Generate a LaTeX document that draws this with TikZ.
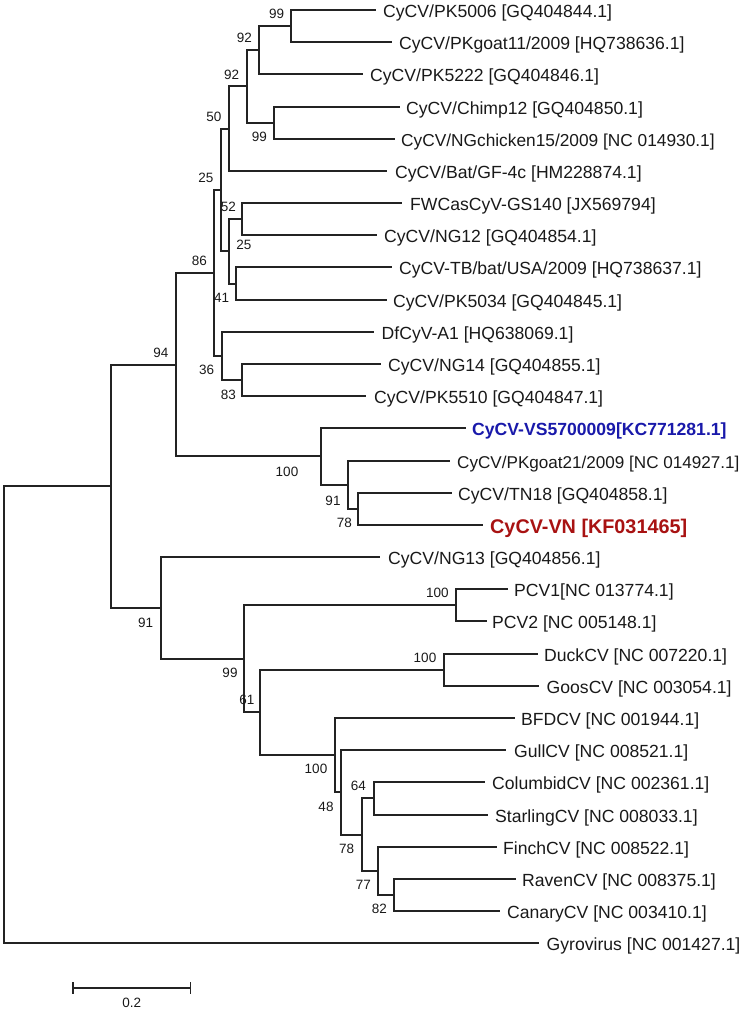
\documentclass[tikz,border=0pt]{standalone}
\usepackage{fontspec}
\setmainfont{Liberation Sans}
\usetikzlibrary{arrows.meta}
\definecolor{tipblue}{RGB}{25,25,170}
\definecolor{tipred}{RGB}{168,18,18}
\definecolor{branch}{RGB}{35,35,35}
\begin{document}
\begin{tikzpicture}[x=1pt,y=-1pt,
  br/.style={line width=1.5pt, draw=branch},
  leaf/.style={anchor=base west, inner sep=0pt, text=black!90, font=\fontsize{17.6}{19}\selectfont},
  bs/.style={inner sep=0pt, text=black!90, font=\fontsize{13.5}{15}\selectfont}]
\useasboundingbox (0,0) rectangle (755,1013);
% ---------- leaf tips and labels ----------
\coordinate (t1) at (376,10);   \node[leaf] (n1) at (383,17.5) {CyCV/PK5006 [GQ404844.1]};
\coordinate (t2) at (392,42);   \node[leaf] (n2) at (399,49.5) {CyCV/PKgoat11/2009 [HQ738636.1]};
\coordinate (t3) at (363,74);   \node[leaf] (n3) at (370,81.5) {CyCV/PK5222 [GQ404846.1]};
\coordinate (t4) at (400,107);  \node[leaf] (n4) at (406,114.5) {CyCV/Chimp12 [GQ404850.1]};
\coordinate (t5) at (395,139);  \node[leaf,font=\fontsize{17.3}{19}\selectfont] (n5) at (401,146.5) {CyCV/NGchicken15/2009 [NC 014930.1]};
\coordinate (t6) at (387,171);  \node[leaf] (n6) at (395,178.5) {CyCV/Bat/GF-4c [HM228874.1]};
\coordinate (t7) at (402,203);  \node[leaf] (n7) at (410,210.5) {FWCasCyV-GS140 [JX569794]};
\coordinate (t8) at (377,235);  \node[leaf] (n8) at (384,242.5) {CyCV/NG12 [GQ404854.1]};
\coordinate (t9) at (392,267);  \node[leaf] (n9) at (399,274.5) {CyCV-TB/bat/USA/2009 [HQ738637.1]};
\coordinate (t10) at (387,300); \node[leaf] (n10) at (393,307.5) {CyCV/PK5034 [GQ404845.1]};
\coordinate (t11) at (374,332); \node[leaf] (n11) at (381.5,339.5) {DfCyV-A1 [HQ638069.1]};
\coordinate (t12) at (381,364); \node[leaf] (n12) at (388,371.5) {CyCV/NG14 [GQ404855.1]};
\coordinate (t13) at (366,396); \node[leaf] (n13) at (374,403.5) {CyCV/PK5510 [GQ404847.1]};
\coordinate (t14) at (466,428); \node[leaf,text=tipblue,font=\fontsize{17.6}{19}\selectfont\bfseries] (n14) at (472,435.5) {CyCV-VS5700009[KC771281.1]};
\coordinate (t15) at (450,461); \node[leaf,font=\fontsize{17.1}{19}\selectfont] (n15) at (457,468.5) {CyCV/PKgoat21/2009 [NC 014927.1]};
\coordinate (t16) at (452,493); \node[leaf] (n16) at (458,500.5) {CyCV/TN18 [GQ404858.1]};
\coordinate (t17) at (483,525); \node[leaf,text=tipred,font=\fontsize{19.8}{21}\selectfont\bfseries] (n17) at (490,533.2) {CyCV-VN [KF031465]};
\coordinate (t18) at (380,557); \node[leaf] (n18) at (388,564.5) {CyCV/NG13 [GQ404856.1]};
\coordinate (t19) at (508,589); \node[leaf] (n19) at (514,596.5) {PCV1[NC 013774.1]};
\coordinate (t20) at (487,621); \node[leaf] (n20) at (492,628.5) {PCV2 [NC 005148.1]};
\coordinate (t21) at (538,654); \node[leaf] (n21) at (544,661.5) {DuckCV [NC 007220.1]};
\coordinate (t22) at (539,686); \node[leaf] (n22) at (546.5,693.5) {GoosCV [NC 003054.1]};
\coordinate (t23) at (515,718); \node[leaf] (n23) at (521,725.5) {BFDCV [NC 001944.1]};
\coordinate (t24) at (506,750); \node[leaf] (n24) at (514,757.5) {GullCV [NC 008521.1]};
\coordinate (t25) at (485,782); \node[leaf] (n25) at (492,789.5) {ColumbidCV [NC 002361.1]};
\coordinate (t26) at (488,815); \node[leaf] (n26) at (495,822.5) {StarlingCV [NC 008033.1]};
\coordinate (t27) at (497,847); \node[leaf] (n27) at (503,854.5) {FinchCV [NC 008522.1]};
\coordinate (t28) at (516,879); \node[leaf] (n28) at (522,886.5) {RavenCV [NC 008375.1]};
\coordinate (t29) at (500,911); \node[leaf] (n29) at (507,918.5) {CanaryCV [NC 003410.1]};
\coordinate (t30) at (539,943); \node[leaf] (n30) at (546.5,950.5) {Gyrovirus [NC 001427.1]};
% ---------- internal nodes ----------
\coordinate (P1) at (291,26);
\coordinate (P2) at (259,50);
\coordinate (Pc) at (274,123);
\coordinate (P3) at (247,86);
\coordinate (P4) at (229,129);
\coordinate (Pf) at (242,219);
\coordinate (R) at (236,284);
\coordinate (Q) at (229,251);
\coordinate (P5) at (221,190);
\coordinate (T) at (242,380);
\coordinate (S) at (222,356);
\coordinate (N86) at (214,273);
\coordinate (G) at (358,509);
\coordinate (F) at (348,485);
\coordinate (E) at (321,456);
\coordinate (B) at (176,365);
\coordinate (PCV) at (456,605);
\coordinate (DG) at (444,670);
\coordinate (M) at (374,798);
\coordinate (O) at (394,895);
\coordinate (N) at (378,871);
\coordinate (L) at (362,835);
\coordinate (K) at (341,792);
\coordinate (J) at (335,755);
\coordinate (I) at (260,712);
\coordinate (H) at (244,659);
\coordinate (C) at (161,608);
\coordinate (A) at (111,486);
\coordinate (root) at (4,715);
% ---------- branches ----------
\draw[br] (P1) |- (t1);  \draw[br] (P1) |- (t2);
\draw[br] (P2) |- (P1);  \draw[br] (P2) |- (t3);
\draw[br] (Pc) |- (t4);  \draw[br] (Pc) |- (t5);
\draw[br] (P3) |- (P2);  \draw[br] (P3) |- (Pc);
\draw[br] (P4) |- (P3);  \draw[br] (P4) |- (t6);
\draw[br] (Pf) |- (t7);  \draw[br] (Pf) |- (t8);
\draw[br] (R) |- (t9);   \draw[br] (R) |- (t10);
\draw[br] (Q) |- (Pf);   \draw[br] (Q) |- (R);
\draw[br] (P5) |- (P4);  \draw[br] (P5) |- (Q);
\draw[br] (T) |- (t12);  \draw[br] (T) |- (t13);
\draw[br] (S) |- (t11);  \draw[br] (S) |- (T);
\draw[br] (N86) |- (P5); \draw[br] (N86) |- (S);
\draw[br] (G) |- (t16);  \draw[br] (G) |- (t17);
\draw[br] (F) |- (t15);  \draw[br] (F) |- (G);
\draw[br] (E) |- (t14);  \draw[br] (E) |- (F);
\draw[br] (B) |- (N86);  \draw[br] (B) |- (E);
\draw[br] (PCV) |- (t19); \draw[br] (PCV) |- (t20);
\draw[br] (DG) |- (t21); \draw[br] (DG) |- (t22);
\draw[br] (M) |- (t25);  \draw[br] (M) |- (t26);
\draw[br] (O) |- (t28);  \draw[br] (O) |- (t29);
\draw[br] (N) |- (t27);  \draw[br] (N) |- (O);
\draw[br] (L) |- (M);    \draw[br] (L) |- (N);
\draw[br] (K) |- (t24);  \draw[br] (K) |- (L);
\draw[br] (J) |- (t23);  \draw[br] (J) |- (K);
\draw[br] (I) |- (DG);   \draw[br] (I) |- (J);
\draw[br] (H) |- (PCV);  \draw[br] (H) |- (I);
\draw[br] (C) |- (t18);  \draw[br] (C) |- (H);
\draw[br] (A) |- (B);    \draw[br] (A) |- (C);
\draw[br] (root) |- (A); \draw[br] (root) |- (t30);
% ---------- bootstrap values ----------
\node[bs] (b1) at (276.7,14.3) {99};
\node[bs] (b2) at (244.3,38.3) {92};
\node[bs] (b3) at (231.7,75) {92};
\node[bs] (b4) at (214,116.7) {50};
\node[bs] (b5) at (259.3,136.7) {99};
\node[bs] (b6) at (206,178.3) {25};
\node[bs] (b7) at (228.3,207.3) {52};
\node[bs] (b8) at (244,245) {25};
\node[bs] (b9) at (199.3,260.7) {86};
\node[bs] (b10) at (221.7,298.3) {41};
\node[bs] (b11) at (206.7,370) {36};
\node[bs] (b12) at (228.3,395) {83};
\node[bs] (b13) at (161,353.3) {94};
\node[bs] (b14) at (287,471.7) {100};
\node[bs] (b15) at (333,500.7) {91};
\node[bs] (b16) at (344.3,523.3) {78};
\node[bs] (b17) at (145.7,622.7) {91};
\node[bs] (b18) at (437.3,593.3) {100};
\node[bs] (b19) at (230,672.7) {99};
\node[bs] (b20) at (425,657.5) {100};
\node[bs] (b21) at (247,700) {61};
\node[bs] (b22) at (316,769.3) {100};
\node[bs] (b23) at (326,806.7) {48};
\node[bs] (b24) at (358.3,786) {64};
\node[bs] (b25) at (346.7,849.3) {78};
\node[bs] (b26) at (363.3,885) {77};
\node[bs] (b27) at (379.3,909.3) {82};
% ---------- scale bar ----------
\coordinate (s1) at (72,988);
\coordinate (s2) at (191,988);
\draw[line width=1.5pt, draw=branch, {Bar[width=11.5pt,line width=1.5pt]}-{Bar[width=11.5pt,line width=1.5pt]}] (s1) -- (s2);
\node[bs] (sl) at (131.7,1003) {0.2};
\end{tikzpicture}
\end{document}
